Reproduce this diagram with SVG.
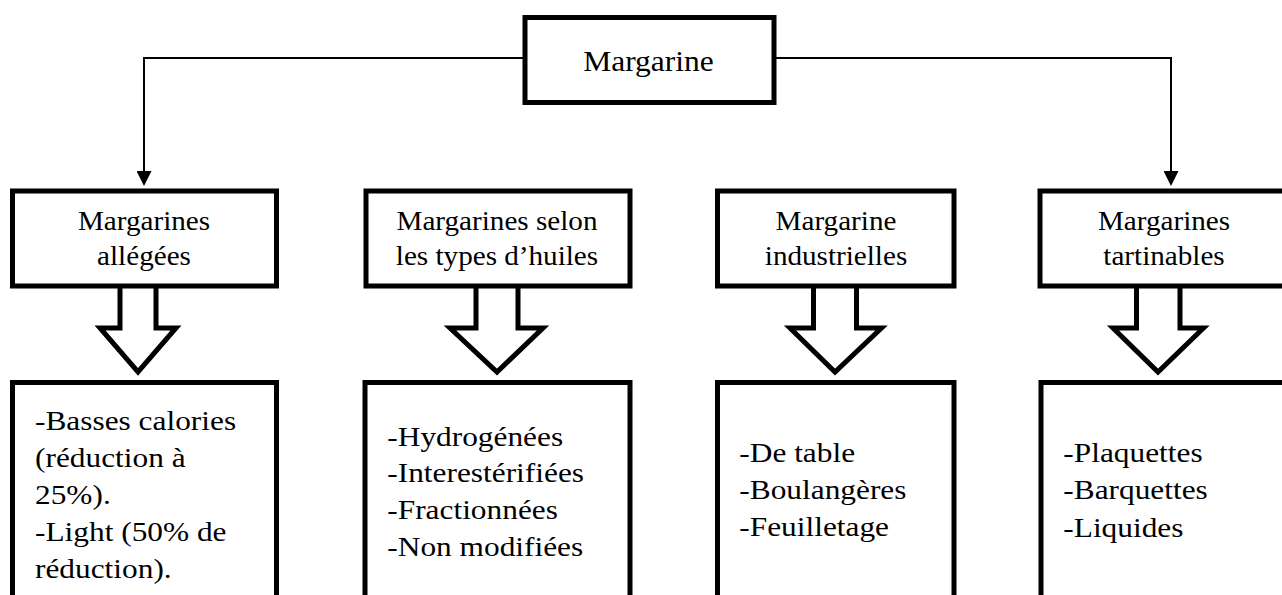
<svg xmlns="http://www.w3.org/2000/svg" width="1282" height="595" viewBox="0 0 1282 595">
  <defs>
    <style>
      .box { fill: #ffffff; stroke: #000000; stroke-width: 5; }
      .conn { fill: none; stroke: #000000; stroke-width: 2; }
      .block { fill: none; stroke: #000000; stroke-width: 5; stroke-linejoin: miter; stroke-miterlimit: 10; }
      .t { font-family: "Liberation Serif", "Times New Roman", serif; fill: #000000; }
      .top { font-size: 30px; text-anchor: middle; }
      .lbl { font-size: 26.5px; text-anchor: middle; }
      .lst { font-size: 28px; }
    </style>
    <marker id="ah" viewBox="0 0 15 15" refX="0" refY="7.5" markerWidth="15" markerHeight="15" markerUnits="userSpaceOnUse" orient="auto">
      <path d="M0,0 L15,7.5 L0,15 z" fill="#000000"/>
    </marker>
  </defs>
  <rect width="1282" height="595" fill="#ffffff"/>

  <g id="connectors">
    <path class="conn" d="M525,58 H144 V171" marker-end="url(#ah)"/>
    <path class="conn" d="M774,58 H1171 V171" marker-end="url(#ah)"/>
    <polyline class="block" points="120,286 120,328 100,328 138,372 176,328 156,328 156,286"/>
    <polyline class="block" points="476,286 476,328 450,328 497,372 543,328 518,328 518,286"/>
    <polyline class="block" points="813.5,286 813.5,328 790,328 835,372 881.5,328 856.5,328 856.5,286"/>
    <polyline class="block" points="1136.5,286 1136.5,328 1113,328 1158,372 1203.5,328 1180,328 1180,286"/>
  </g>

  <g id="node-margarine">
    <rect class="box" x="525" y="17.5" width="249" height="85"/>
    <g transform="translate(648.5,0) scale(1.05,1)">
      <text class="t top" x="0" y="71.5">Margarine</text>
    </g>
  </g>

  <g id="node-allegees">
    <rect class="box" x="12.5" y="191" width="264" height="95"/>
    <g transform="translate(144,0) scale(1.1,1)">
      <text class="t lbl" x="0" y="230.5">Margarines</text>
      <text class="t lbl" x="0" y="265">allégées</text>
    </g>
  </g>

  <g id="node-huiles">
    <rect class="box" x="366" y="191" width="264" height="95"/>
    <g transform="translate(497,0) scale(1.1,1)">
      <text class="t lbl" x="0" y="230.5">Margarines selon</text>
      <text class="t lbl" x="0" y="265">les types d’huiles</text>
    </g>
  </g>

  <g id="node-industrielles">
    <rect class="box" x="717.5" y="191" width="236.5" height="95"/>
    <g transform="translate(836,0) scale(1.1,1)">
      <text class="t lbl" x="0" y="230.5">Margarine</text>
      <text class="t lbl" x="0" y="265">industrielles</text>
    </g>
  </g>

  <g id="node-tartinables">
    <rect class="box" x="1040" y="191" width="250" height="95"/>
    <g transform="translate(1164,0) scale(1.1,1)">
      <text class="t lbl" x="0" y="230.5">Margarines</text>
      <text class="t lbl" x="0" y="265">tartinables</text>
    </g>
  </g>

  <g id="list-allegees">
    <rect class="box" x="12.5" y="382.5" width="264" height="260"/>
    <g transform="translate(35,0) scale(1.12,1)">
      <text class="t lst" x="0" y="430.5">-Basses calories</text>
      <text class="t lst" x="0" y="467.5">(réduction à</text>
      <text class="t lst" x="0" y="504.5">25%).</text>
      <text class="t lst" x="0" y="541.5">-Light (50% de</text>
      <text class="t lst" x="0" y="578.5">réduction).</text>
    </g>
  </g>

  <g id="list-huiles">
    <rect class="box" x="365" y="382.5" width="265" height="260"/>
    <g transform="translate(387.3,0) scale(1.12,1)">
      <text class="t lst" x="0" y="446.5">-Hydrogénées</text>
      <text class="t lst" x="0" y="482.5">-Interestérifiées</text>
      <text class="t lst" x="0" y="519">-Fractionnées</text>
      <text class="t lst" x="0" y="556">-Non modifiées</text>
    </g>
  </g>

  <g id="list-industrielles">
    <rect class="box" x="717.5" y="382.5" width="236.5" height="260"/>
    <g transform="translate(739.3,0) scale(1.12,1)">
      <text class="t lst" x="0" y="462">-De table</text>
      <text class="t lst" x="0" y="499">-Boulangères</text>
      <text class="t lst" x="0" y="536">-Feuilletage</text>
    </g>
  </g>

  <g id="list-tartinables">
    <rect class="box" x="1041" y="382.5" width="250" height="260"/>
    <g transform="translate(1063.3,0) scale(1.12,1)">
      <text class="t lst" x="0" y="462.5">-Plaquettes</text>
      <text class="t lst" x="0" y="499.5">-Barquettes</text>
      <text class="t lst" x="0" y="537">-Liquides</text>
    </g>
  </g>
</svg>
